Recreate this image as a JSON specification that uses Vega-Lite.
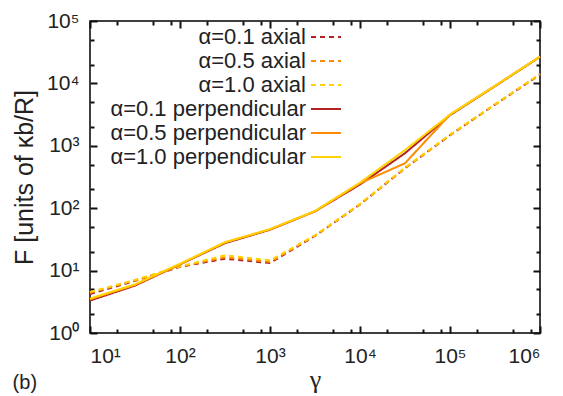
{
  "$schema": "https://vega.github.io/schema/vega-lite/v6.json",
  "width": 450,
  "height": 312,
  "autosize": "none",
  "padding": {"left": 90, "top": 21, "right": 23, "bottom": 63},
  "config": {
    "font": "Liberation Sans",
    "view": {"stroke": "#000", "strokeWidth": 1.5},
    "axis": {"domain": false, "grid": false, "ticks": true, "tickColor": "#111111", "tickWidth": 2, "tickOpacity": 1, "labelFont": "Liberation Sans", "labelColor": "#222", "titleFont": "Liberation Sans", "titleColor": "#222", "titleFontWeight": "normal"},
    "legend": {"orient": "none", "legendX": 225, "legendY": 5, "title": null, "labelAlign": "right", "labelOffset": -31, "symbolType": "M-3,0H3", "symbolSize": 100, "symbolStrokeWidth": 2, "labelFontSize": 22, "labelFont": "Liberation Sans", "labelColor": "#222", "rowPadding": 2, "padding": 0, "labelLimit": 400}
  },
  "title": {"text": "(b)", "orient": "bottom", "anchor": "start", "frame": "bounds", "fontSize": 20, "fontWeight": "normal", "font": "Liberation Sans", "color": "#222", "offset": -19, "dx": 0},
  "data": {"values": [
    {"g": 10, "F": 4.22, "s": "α=0.1 axial"},
    {"g": 31.6, "F": 6.84, "s": "α=0.1 axial"},
    {"g": 100, "F": 11.5, "s": "α=0.1 axial"},
    {"g": 316, "F": 15.5, "s": "α=0.1 axial"},
    {"g": 1000, "F": 13.2, "s": "α=0.1 axial"},
    {"g": 3160, "F": 35.9, "s": "α=0.1 axial"},
    {"g": 10000, "F": 115, "s": "α=0.1 axial"},
    {"g": 31600, "F": 437, "s": "α=0.1 axial"},
    {"g": 100000, "F": 1480, "s": "α=0.1 axial"},
    {"g": 316000, "F": 4570, "s": "α=0.1 axial"},
    {"g": 1000000, "F": 13800, "s": "α=0.1 axial"},
    {"g": 10, "F": 4.42, "s": "α=0.5 axial"},
    {"g": 31.6, "F": 7.0, "s": "α=0.5 axial"},
    {"g": 100, "F": 11.6, "s": "α=0.5 axial"},
    {"g": 316, "F": 16.4, "s": "α=0.5 axial"},
    {"g": 1000, "F": 13.8, "s": "α=0.5 axial"},
    {"g": 3160, "F": 36.3, "s": "α=0.5 axial"},
    {"g": 10000, "F": 115, "s": "α=0.5 axial"},
    {"g": 31600, "F": 437, "s": "α=0.5 axial"},
    {"g": 100000, "F": 1480, "s": "α=0.5 axial"},
    {"g": 316000, "F": 4570, "s": "α=0.5 axial"},
    {"g": 1000000, "F": 14000, "s": "α=0.5 axial"},
    {"g": 10, "F": 4.52, "s": "α=1.0 axial"},
    {"g": 31.6, "F": 7.08, "s": "α=1.0 axial"},
    {"g": 100, "F": 11.7, "s": "α=1.0 axial"},
    {"g": 316, "F": 17.6, "s": "α=1.0 axial"},
    {"g": 1000, "F": 14.6, "s": "α=1.0 axial"},
    {"g": 3160, "F": 36.7, "s": "α=1.0 axial"},
    {"g": 10000, "F": 117, "s": "α=1.0 axial"},
    {"g": 31600, "F": 447, "s": "α=1.0 axial"},
    {"g": 100000, "F": 1510, "s": "α=1.0 axial"},
    {"g": 316000, "F": 4620, "s": "α=1.0 axial"},
    {"g": 1000000, "F": 14100, "s": "α=1.0 axial"},
    {"g": 10, "F": 3.31, "s": "α=0.1 perpendicular"},
    {"g": 31.6, "F": 5.75, "s": "α=0.1 perpendicular"},
    {"g": 100, "F": 12.6, "s": "α=0.1 perpendicular"},
    {"g": 316, "F": 27.5, "s": "α=0.1 perpendicular"},
    {"g": 1000, "F": 45.2, "s": "α=0.1 perpendicular"},
    {"g": 3160, "F": 89.1, "s": "α=0.1 perpendicular"},
    {"g": 10000, "F": 240, "s": "α=0.1 perpendicular"},
    {"g": 31600, "F": 760, "s": "α=0.1 perpendicular"},
    {"g": 100000, "F": 3090, "s": "α=0.1 perpendicular"},
    {"g": 316000, "F": 9020, "s": "α=0.1 perpendicular"},
    {"g": 1000000, "F": 26600, "s": "α=0.1 perpendicular"},
    {"g": 10, "F": 3.47, "s": "α=0.5 perpendicular"},
    {"g": 31.6, "F": 5.89, "s": "α=0.5 perpendicular"},
    {"g": 100, "F": 12.6, "s": "α=0.5 perpendicular"},
    {"g": 316, "F": 28.2, "s": "α=0.5 perpendicular"},
    {"g": 1000, "F": 45.7, "s": "α=0.5 perpendicular"},
    {"g": 3160, "F": 89.1, "s": "α=0.5 perpendicular"},
    {"g": 10000, "F": 251, "s": "α=0.5 perpendicular"},
    {"g": 31600, "F": 525, "s": "α=0.5 perpendicular"},
    {"g": 100000, "F": 3160, "s": "α=0.5 perpendicular"},
    {"g": 316000, "F": 9120, "s": "α=0.5 perpendicular"},
    {"g": 1000000, "F": 26900, "s": "α=0.5 perpendicular"},
    {"g": 10, "F": 3.55, "s": "α=1.0 perpendicular"},
    {"g": 31.6, "F": 6.03, "s": "α=1.0 perpendicular"},
    {"g": 100, "F": 12.9, "s": "α=1.0 perpendicular"},
    {"g": 316, "F": 28.5, "s": "α=1.0 perpendicular"},
    {"g": 1000, "F": 46.2, "s": "α=1.0 perpendicular"},
    {"g": 3160, "F": 90.2, "s": "α=1.0 perpendicular"},
    {"g": 10000, "F": 257, "s": "α=1.0 perpendicular"},
    {"g": 31600, "F": 851, "s": "α=1.0 perpendicular"},
    {"g": 100000, "F": 3162, "s": "α=1.0 perpendicular"},
    {"g": 316000, "F": 9120, "s": "α=1.0 perpendicular"},
    {"g": 1000000, "F": 26900, "s": "α=1.0 perpendicular"}
  ]},
  "layer": [
    {
      "mark": {"type": "line", "strokeWidth": 2},
      "encoding": {
        "x": {"field": "g", "type": "quantitative", "scale": {"type": "log", "domain": [10, 1000000]},
          "axis": {"orient": "bottom", "offset": -7, "values": [10, 100, 1000, 10000, 100000, 1000000], "labelExpr": "'10' + ['⁰','¹','²','³','⁴','⁵','⁶'][round(log(datum.value)/LN10)]", "tickSize": 7, "tickColor": "#111111", "tickWidth": 2, "labelFontSize": 21, "labelPadding": 12, "title": "γ", "titleFont": "Liberation Serif", "titleFontSize": 26, "titlePadding": 0}},
        "y": {"field": "F", "type": "quantitative", "scale": {"type": "log", "domain": [1, 100000]},
          "axis": {"orient": "left", "offset": -7, "values": [1, 10, 100, 1000, 10000, 100000], "labelExpr": "'10' + ['⁰','¹','²','³','⁴','⁵','⁶'][round(log(datum.value)/LN10)]", "tickSize": 7, "tickColor": "#111111", "tickWidth": 2, "labelFontSize": 21, "labelPadding": 11, "title": "F [units of κb/R]", "titleFontSize": 25, "titlePadding": 9}},
        "color": {"field": "s", "type": "nominal",
          "scale": {"domain": ["α=0.1 axial", "α=0.5 axial", "α=1.0 axial", "α=0.1 perpendicular", "α=0.5 perpendicular", "α=1.0 perpendicular"],
            "range": ["#B22222", "#FF8C00", "#FFD200", "#B22222", "#FF8C00", "#FFD200"]}},
        "strokeDash": {"field": "s", "type": "nominal",
          "scale": {"domain": ["α=0.1 axial", "α=0.5 axial", "α=1.0 axial", "α=0.1 perpendicular", "α=0.5 perpendicular", "α=1.0 perpendicular"],
            "range": [[5, 4], [5, 4], [5, 4], [1, 0], [1, 0], [1, 0]]}}
      }
    },
    {
      "mark": {"type": "point", "opacity": 0},
      "encoding": {
        "x": {"field": "g", "type": "quantitative", "axis": {"orient": "top", "offset": -7, "values": [10, 100, 1000, 10000, 100000, 1000000], "labels": false, "tickSize": 7, "tickColor": "#111111", "tickWidth": 2, "title": null}},
        "y": {"field": "F", "type": "quantitative", "axis": {"orient": "right", "offset": -7, "values": [1, 10, 100, 1000, 10000, 100000], "labels": false, "tickSize": 7, "tickColor": "#111111", "tickWidth": 2, "title": null}}
      }
    },
    {
      "mark": {"type": "point", "opacity": 0},
      "encoding": {
        "x": {"field": "g", "type": "quantitative", "axis": {"orient": "bottom", "offset": -4, "values": [20, 50, 80, 200, 500, 800, 2000, 5000, 8000, 20000, 50000, 80000, 200000, 500000, 800000], "labels": false, "tickSize": 4, "tickColor": "#111111", "tickWidth": 2, "title": null}},
        "y": {"field": "F", "type": "quantitative", "axis": {"orient": "left", "offset": -4, "values": [2, 5, 20, 50, 200, 500, 2000, 5000, 20000, 50000], "labels": false, "tickSize": 4, "tickColor": "#111111", "tickWidth": 2, "title": null}}
      }
    },
    {
      "mark": {"type": "point", "opacity": 0},
      "encoding": {
        "x": {"field": "g", "type": "quantitative", "axis": {"orient": "top", "offset": -4, "values": [20, 50, 80, 200, 500, 800, 2000, 5000, 8000, 20000, 50000, 80000, 200000, 500000, 800000], "labels": false, "tickSize": 4, "tickColor": "#111111", "tickWidth": 2, "title": null}},
        "y": {"field": "F", "type": "quantitative", "axis": {"orient": "right", "offset": -4, "values": [2, 5, 20, 50, 200, 500, 2000, 5000, 20000, 50000], "labels": false, "tickSize": 4, "tickColor": "#111111", "tickWidth": 2, "title": null}}
      }
    }
  ],
  "resolve": {"axis": {"x": "independent", "y": "independent"}}
}
